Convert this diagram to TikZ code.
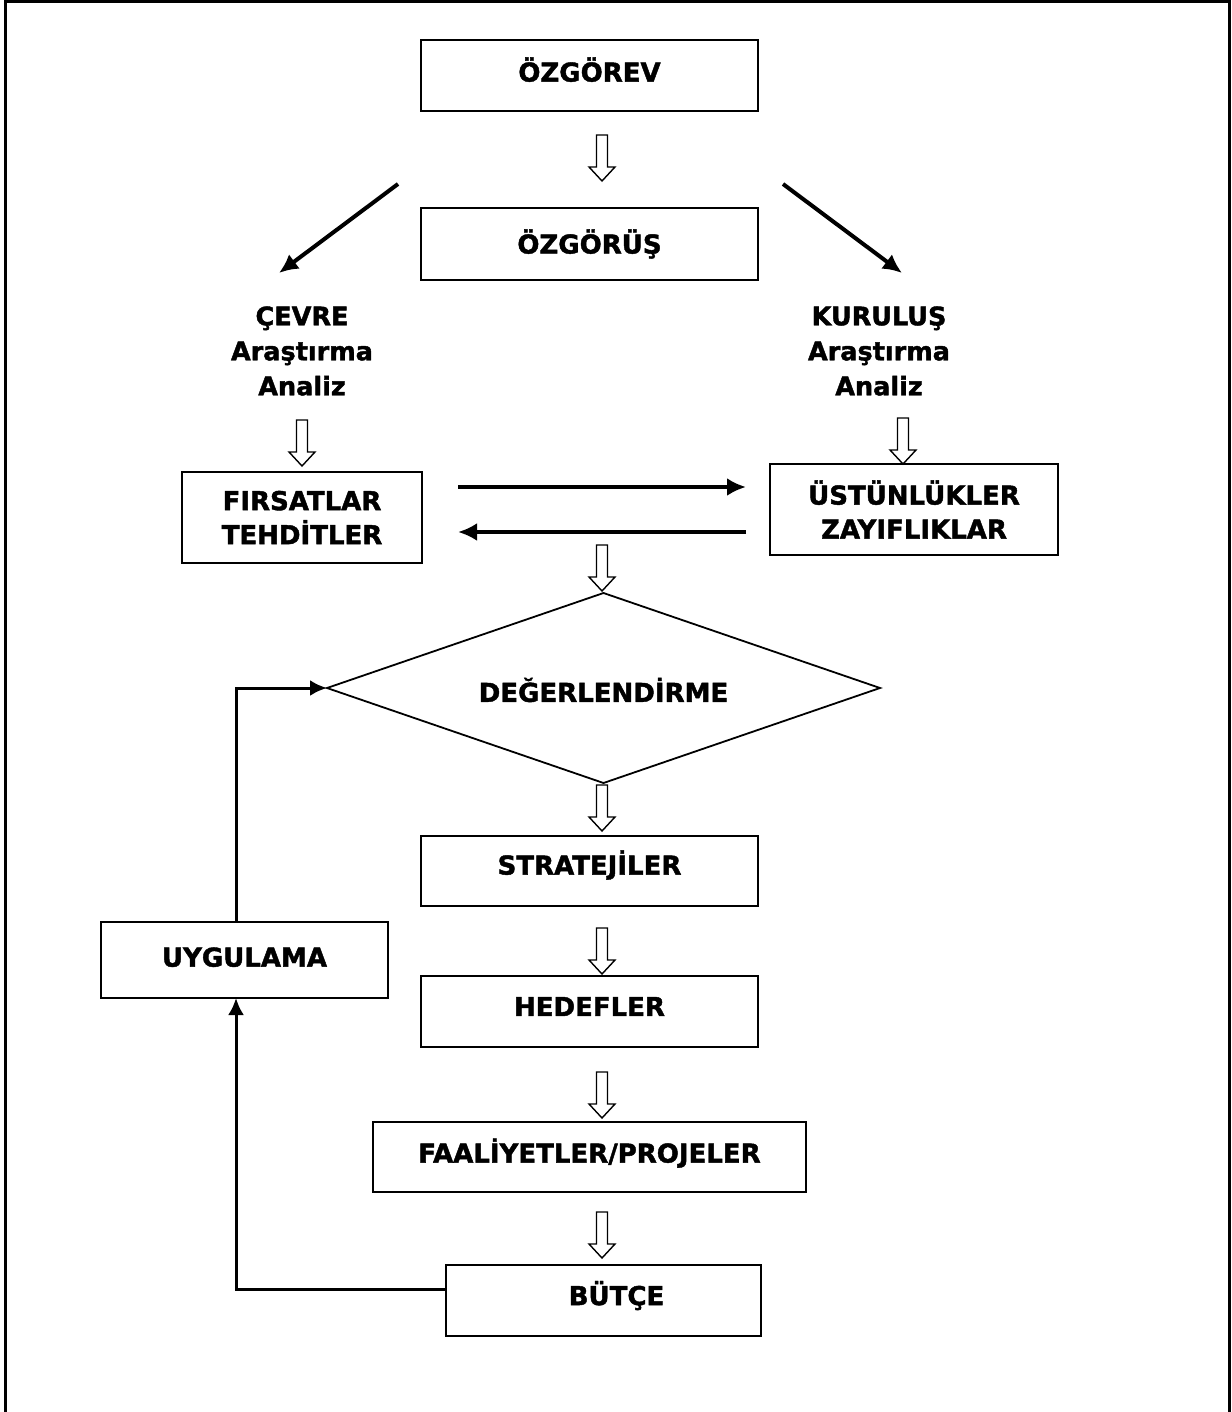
\documentclass[tikz,border=0pt]{standalone}
\usepackage{fontspec}
\setmainfont{DejaVu Sans}[BoldFeatures={FakeBold=1.6}]
\usetikzlibrary{arrows.meta}
\begin{document}
\begin{tikzpicture}[x=1pt,y=-1pt,
  box/.style={draw,line width=1.8pt,inner sep=0pt,align=center,
    font=\bfseries\fontsize{26}{34}\selectfont},
  lbl/.style={inner sep=0pt,align=center,font=\bfseries\fontsize{25.5}{35}\selectfont},
  conn/.style={line width=4pt,-{Latex[length=19pt,width=18pt]}},
  fb/.style={line width=3pt,-{Latex[length=17pt,width=16pt]}},
  harrow/.pic={\draw[line width=1.4pt,fill=white,line join=miter]
    (-5.5,0) -- (-5.5,32) -- (-13,32) -- (0,46) -- (13,32) -- (5.5,32) -- (5.5,0) -- cycle;}]
\useasboundingbox (0,0) rectangle (1231,1412);
\draw[line width=3pt] (5,1414) -- (5,1.5) -- (1229,1.5) -- (1229,1414);

\node[box,minimum width=337pt,minimum height=71pt,text depth=12pt] (ozgorev) at (589.5,75.5) {ÖZGÖREV};
\node[box,minimum width=337pt,minimum height=72pt] (ozgorus) at (589.5,244) {ÖZGÖRÜŞ};
\node[lbl] (cevre) at (302,351) {ÇEVRE\\Araştırma\\Analiz};
\node[lbl] (kurulus) at (879,351) {KURULUŞ\\Araştırma\\Analiz};
\node[box,minimum width=240pt,minimum height=91pt] (firsat) at (302,517.5) {FIRSATLAR\\TEHDİTLER};
\node[box,minimum width=288pt,minimum height=91pt] (ustun) at (914,509.5) {ÜSTÜNLÜKLER\\ZAYIFLIKLAR};

% evaluation diamond
\coordinate (dgt) at (603.5,593);
\coordinate (dgr) at (880,688);
\coordinate (dgb) at (603.5,783);
\coordinate (dgl) at (327,688);
\draw[line width=1.8pt,line join=miter] (dgt) -- (dgr) -- (dgb) -- (dgl) -- cycle;
\node[box,draw=none] (deger) at (603.5,690) {DEĞERLENDİRME};

\node[box,minimum width=337pt,minimum height=70pt,text depth=17pt] (strat) at (589.5,871) {STRATEJİLER};
\node[box,minimum width=337pt,minimum height=71pt,text depth=10pt] (hedef) at (589.5,1011.5) {HEDEFLER};
\node[box,minimum width=433pt,minimum height=70pt,text depth=13pt] (faal) at (589.5,1157) {FAALİYETLER/PROJELER};
\node[box,minimum width=315pt,minimum height=71pt,text width=315pt,text depth=15pt] (butce) at (603.5,1300.5) {\hspace*{26pt}BÜTÇE};
\node[box,minimum width=287pt,minimum height=76pt,text depth=6pt] (uyg) at (244.5,960) {UYGULAMA};

% hollow block arrows
\pic at (602,135) {harrow};
\pic at (302,420) {harrow};
\pic at (903,418) {harrow};
\pic at (602,545) {harrow};
\pic at (602,785) {harrow};
\pic at (602,928) {harrow};
\pic at (602,1072) {harrow};
\pic at (602,1212) {harrow};

% diagonal arrows
\coordinate (dl1) at (398,184);
\coordinate (dl2) at (279,273);
\coordinate (dr1) at (783,184);
\coordinate (dr2) at (902,273);
\draw[conn] (dl1) -- (dl2);
\draw[conn] (dr1) -- (dr2);

% horizontal arrows
\coordinate (h1) at (458,487);
\coordinate (h2) at (746,487);
\coordinate (h3) at (746,532);
\coordinate (h4) at (458,532);
\draw[conn] (h1) -- (h2);
\draw[conn] (h3) -- (h4);

% feedback loop
\coordinate (b1) at (446,1289);
\coordinate (u1) at (236,998);
\coordinate (u2) at (236,922);
\draw[fb] (b1) -| (u1);
\draw[fb] (u2) |- (dgl);
\end{tikzpicture}
\end{document}
